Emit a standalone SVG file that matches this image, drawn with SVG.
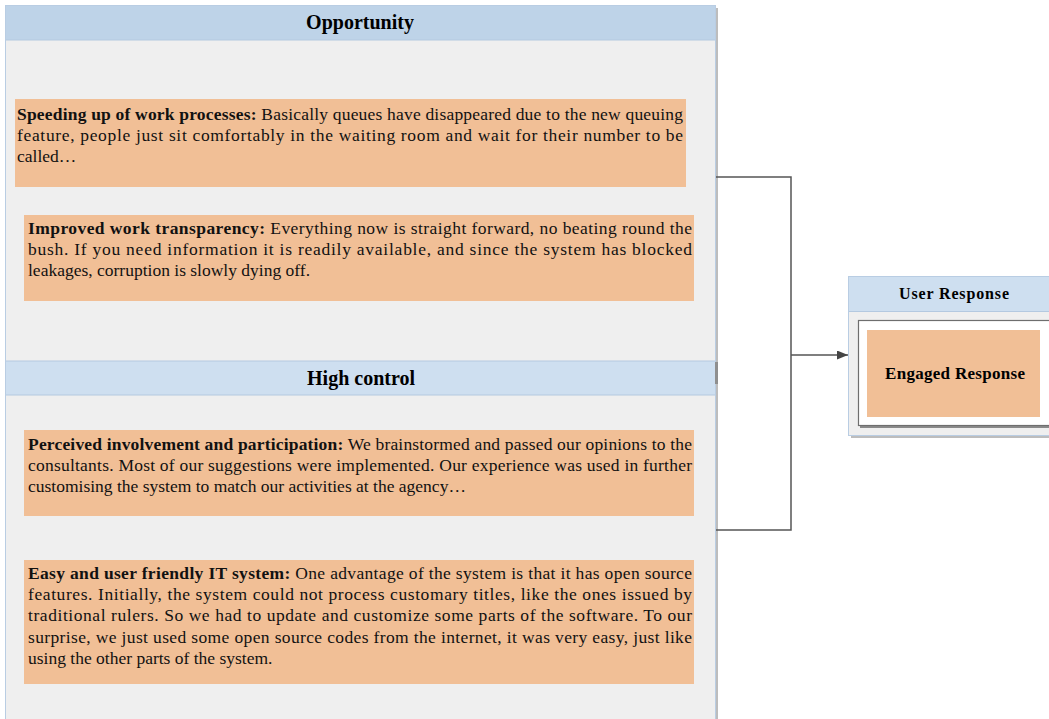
<svg xmlns="http://www.w3.org/2000/svg" width="1049" height="719" viewBox="0 0 1049 719">
  <style>
    .panel { fill: #efefef; stroke: #b9cde3; stroke-width: 1; }
    .shadow { fill: #bdbdbd; }
    .hdr1 { fill: #bed3e8; }
    .hdr2 { fill: #cedff0; }
    .hdrline { stroke: #b4c9e0; stroke-width: 1; }
    .quote { fill: #f1bf96; }
    .title { font-family: "Liberation Serif", "Times New Roman", serif; font-weight: bold; font-size: 20px; fill: #000; }
    .body { font-family: "Liberation Serif", "Times New Roman", serif; font-size: 17.5px; fill: #111; }
    .b { font-weight: bold; }
    .conn { fill: none; stroke: #555; stroke-width: 1.5; }
  </style>
  <defs>
    <marker id="arrow" viewBox="0 0 10 10" refX="10" refY="5" markerWidth="11" markerHeight="9" markerUnits="userSpaceOnUse" orient="auto" preserveAspectRatio="none">
      <path d="M0,0 L10,5 L0,10 z" fill="#444"/>
    </marker>
  </defs>

  <rect width="1049" height="719" fill="#ffffff"/>

  <!-- left container: Opportunity + High control -->
  <g id="left-panel">
    <rect class="shadow" x="715" y="8" width="3" height="711"/>
    <rect class="panel" x="5.5" y="5.5" width="710" height="720"/>
    <rect class="hdr1" x="6" y="6" width="709" height="34"/>
    <line class="hdrline" x1="6" y1="40" x2="715" y2="40"/>
    <text class="title" x="360" y="29" text-anchor="middle">Opportunity</text>

    <rect class="hdr2" x="6" y="361" width="709" height="34"/>
    <line class="hdrline" x1="6" y1="361" x2="715" y2="361"/>
    <line class="hdrline" x1="6" y1="395" x2="715" y2="395"/>
    <rect x="715" y="362" width="3" height="22" fill="#8f8f8f"/>
    <text class="title" x="361" y="385" text-anchor="middle">High control</text>
  </g>

  <g id="speeding-up">
    <rect class="quote" x="15" y="99" width="671" height="88"/>
    <text class="body" x="17" y="120" textLength="666" lengthAdjust="spacing"><tspan class="b">Speeding up of work processes:</tspan> Basically queues have disappeared due to the new queuing</text>
    <text class="body" x="17" y="141" textLength="666" lengthAdjust="spacing">feature, people just sit comfortably in the waiting room and wait for their number to be</text>
    <text class="body" x="17" y="162">called…</text>
  </g>

  <g id="transparency">
    <rect class="quote" x="24" y="215" width="670" height="86"/>
    <text class="body" x="28" y="234" textLength="664" lengthAdjust="spacing"><tspan class="b">Improved work transparency:</tspan> Everything now is straight forward, no beating round the</text>
    <text class="body" x="28" y="255" textLength="664" lengthAdjust="spacing">bush. If you need information it is readily available, and since the system has blocked</text>
    <text class="body" x="28" y="276">leakages, corruption is slowly dying off.</text>
  </g>

  <g id="involvement">
    <rect class="quote" x="24" y="430" width="670" height="86"/>
    <text class="body" x="28" y="450" textLength="664" lengthAdjust="spacing"><tspan class="b">Perceived involvement and participation:</tspan> We brainstormed and passed our opinions to the</text>
    <text class="body" x="28" y="471" textLength="664" lengthAdjust="spacing">consultants. Most of our suggestions were implemented. Our experience was used in further</text>
    <text class="body" x="28" y="492">customising the system to match our activities at the agency…</text>
  </g>

  <g id="user-friendly">
    <rect class="quote" x="24" y="560" width="670" height="124"/>
    <text class="body" x="28" y="579" textLength="664" lengthAdjust="spacing"><tspan class="b">Easy and user friendly IT system:</tspan> One advantage of the system is that it has open source</text>
    <text class="body" x="28" y="600" textLength="664" lengthAdjust="spacing">features. Initially, the system could not process customary titles, like the ones issued by</text>
    <text class="body" x="28" y="621" textLength="664" lengthAdjust="spacing">traditional rulers. So we had to update and customize some parts of the software. To our</text>
    <text class="body" x="28" y="643" textLength="664" lengthAdjust="spacing">surprise, we just used some open source codes from the internet, it was very easy, just like</text>
    <text class="body" x="28" y="664">using the other parts of the system.</text>
  </g>

  <!-- connectors -->
  <g id="connectors">
    <polyline class="conn" points="716,177 791,177 791,530 716,530"/>
    <line class="conn" x1="791" y1="355" x2="848" y2="355" marker-end="url(#arrow)"/>
  </g>

  <g id="user-response">
    <rect class="shadow" x="851" y="279" width="198" height="159"/>
    <rect class="panel" x="848.5" y="276.5" width="205" height="159"/>
    <rect class="hdr2" x="849" y="277" width="200" height="34.5"/>
    <line class="hdrline" x1="849" y1="311.5" x2="1049" y2="311.5"/>
    <text class="title" x="954" y="299" text-anchor="middle" style="font-size:16px" textLength="110" lengthAdjust="spacing">User Response</text>
    <rect x="860" y="322" width="195" height="106" fill="#8a8a8a"/>
    <rect x="858.5" y="320.5" width="195" height="105" fill="#ffffff" stroke="#6e6e6e" stroke-width="1.2"/>
    <rect class="quote" x="867" y="330" width="173" height="87"/>
    <text class="title" x="955" y="379" text-anchor="middle" style="font-size:17px" textLength="140" lengthAdjust="spacing">Engaged Response</text>
  </g>
</svg>
